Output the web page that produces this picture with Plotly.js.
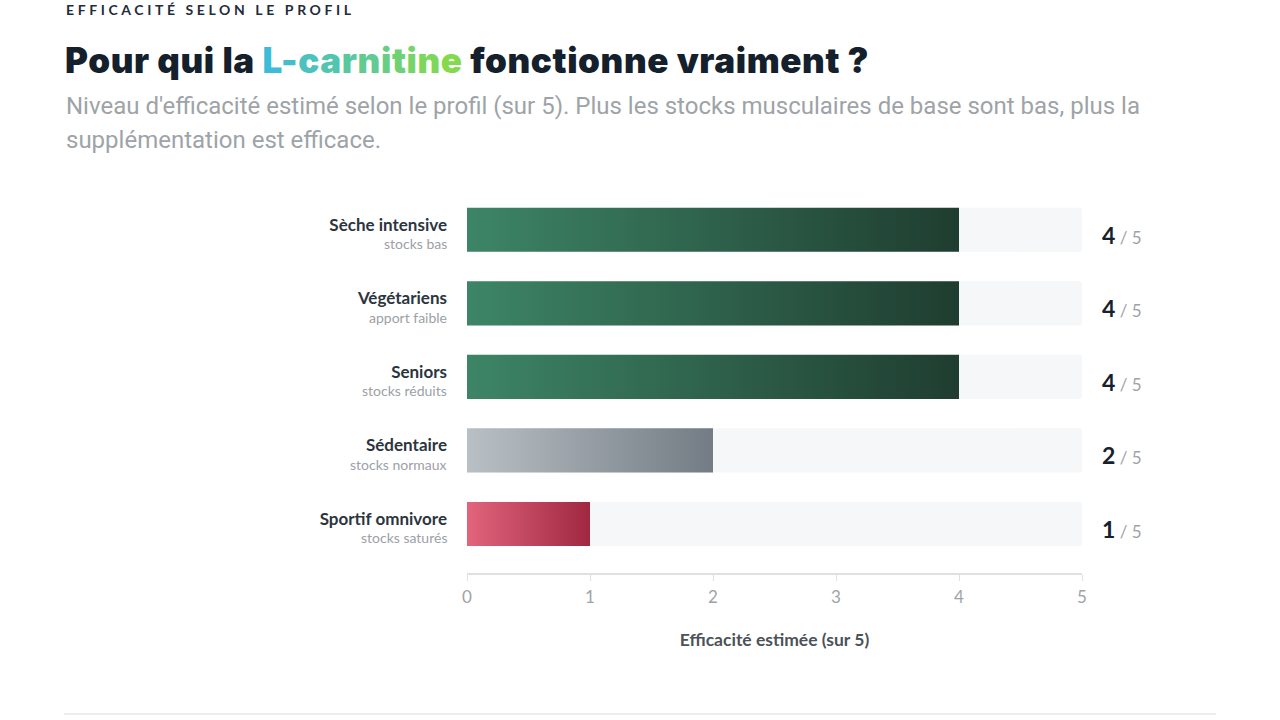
<!DOCTYPE html>
<html>
<head>
<meta charset="utf-8">
<script src="https://cdn.plot.ly/plotly-3.0.1.min.js"></script>
<style>
  html, body { margin: 0; padding: 0; background: #ffffff; }
  #chart { width: 1280px; height: 720px; }
</style>
</head>
<body>
<div id="chart"></div>
<script>
// ---- Data ----
const categories = ["Sèche intensive", "Végétariens", "Seniors", "Sédentaire", "Sportif omnivore"];
const subLabels = ["stocks bas", "apport faible", "stocks réduits", "stocks normaux", "stocks saturés"];
const scores = [4, 4, 4, 2, 1];
const maxScore = 5;
const trackValues = [5, 5, 5, 5, 5];
const xTicks = [0, 1, 2, 3, 4, 5];
const levels = ["high", "high", "high", "mid", "low"];

// ---- Styles ----
const gradients = {
  high: ["#3d8566", "#1f3d30"],
  mid: ["#b9c0c5", "#737c84"],
  low: ["#e2647d", "#9f2840"]
};
const FONT = "Lato, 'Noto Sans', sans-serif";
const TITLE_FONT = "Inter, Lato, sans-serif";

function hexToRgb(h) { h = h.replace('#',''); return [parseInt(h.substr(0,2),16), parseInt(h.substr(2,2),16), parseInt(h.substr(4,2),16)]; }
function mix(a, b, t) { const A = hexToRgb(a), B = hexToRgb(b); return 'rgb(' + A.map((v,i)=>Math.round(v+(B[i]-v)*t)).join(',') + ')'; }
function gradientText(str, c1, c2) {
  const chars = Array.from(str);
  return chars.map((ch, i) => "<span style='color:" + mix(c1, c2, chars.length>1 ? i/(chars.length-1) : 0) + "'>" + ch + "</span>").join('');
}

const trackTrace = {
  type: 'bar', orientation: 'h',
  x: trackValues, y: categories,
  width: 0.6,
  marker: { color: '#f5f7f8', line: { width: 0 }, cornerradius: 3 },
  hoverinfo: 'skip', showlegend: false
};
const scoreTrace = {
  type: 'bar', orientation: 'h',
  x: scores, y: categories,
  width: 0.6,
  marker: { color: levels.map(l => gradients[l][1]), line: { width: 0 }, cornerradius: 4 },
  showlegend: false
};

// pixel -> paper helpers (plot area: x 467..1082, y 193..573)
const L = 467, R = 198, T = 193, B = 147;
const PW = 1280 - L - R, PH = 720 - T - B;
const px = x => (x - L) / PW;
const py = y => (720 - B - y) / PH;

const annotations = [
  { xref: 'paper', yref: 'paper', x: px(64), y: py(10), xanchor: 'left', yanchor: 'middle', showarrow: false,
    text: "<b>EFFICACITÉ SELON LE PROFIL</b>", font: { family: FONT, size: 14, color: '#1f2d3a' } },
  { xref: 'paper', yref: 'paper', x: px(63), y: py(60), xanchor: 'left', yanchor: 'middle', showarrow: false,
    text: "Pour qui la " + gradientText("L-carnitine", "#3dbcd8", "#84da4c") + " fonctionne vraiment ?",
    font: { family: TITLE_FONT, size: 35, color: '#14202b', weight: 900 } },
  { xref: 'paper', yref: 'paper', x: px(64), y: py(106), xanchor: 'left', yanchor: 'middle', showarrow: false,
    text: "Niveau d'efficacité estimé selon le profil (sur 5). Plus les stocks musculaires de base sont bas, plus la",
    font: { family: 'Roboto, sans-serif', size: 24, color: '#9ea3a8' } },
  { xref: 'paper', yref: 'paper', x: px(64), y: py(140), xanchor: 'left', yanchor: 'middle', showarrow: false,
    text: "supplémentation est efficace.",
    font: { family: 'Roboto, sans-serif', size: 24, color: '#9ea3a8' } }
];
categories.forEach((c, i) => {
  annotations.push({
    xref: 'paper', yref: 'y', x: px(449), y: c, xanchor: 'right', yanchor: 'middle', yshift: -14, showarrow: false,
    text: subLabels[i], font: { family: FONT, size: 14, color: '#9ca1a6' }
  });
  annotations.push({
    xref: 'paper', yref: 'y', x: px(1100), y: c, xanchor: 'left', yanchor: 'middle', yshift: -5, showarrow: false,
    text: "<b>" + scores[i] + "</b><span style='font-size:17px;color:#9ea3a8;font-weight:normal'> / " + maxScore + "</span>",
    font: { family: FONT, size: 23, color: '#16212b', weight: 900 }
  });
});

const layout = {
  width: 1280, height: 720,
  margin: { l: L, r: R, t: T, b: B, pad: 0 },
  paper_bgcolor: '#ffffff', plot_bgcolor: '#ffffff',
  barmode: 'overlay',
  font: { family: FONT },
  xaxis: {
    range: [0, maxScore], tickvals: xTicks, ticktext: xTicks.map(String),
    showgrid: false, zeroline: false,
    showline: true, linecolor: '#dde1e4', linewidth: 2,
    ticks: 'outside', ticklen: 6, tickcolor: '#dde1e4', tickwidth: 1,
    ticklabelstandoff: 2,
    tickfont: { family: FONT, size: 17, color: '#9ea3a8' },
    title: { text: "<b>Efficacité estimée (sur 5)</b>", font: { family: FONT, size: 17.5, color: '#4b5259' }, standoff: 27 },
    automargin: false, fixedrange: true
  },
  yaxis: {
    type: 'category', range: [4.667, -0.5],
    tickvals: categories, ticktext: categories.map(c => "<b>" + c + "</b>"),
    showgrid: false, zeroline: false, showline: false, ticks: '',
    ticklabelstandoff: 19, ticklabelshift: 5,
    tickfont: { family: FONT, size: 17, color: '#2c353e' },
    automargin: false, fixedrange: true
  },
  shapes: [
    { type: 'line', xref: 'paper', yref: 'paper', x0: px(64), x1: px(1216), y0: py(714), y1: py(714),
      line: { color: '#e3e6e8', width: 1.5 } }
  ],
  annotations: annotations
};

function spaceLetters(t, spacing) {
  const before = t.getBBox();
  t.style.letterSpacing = spacing;
  const after = t.getBBox();
  t.setAttribute('transform', 'translate(' + (before.x - after.x) + ',0)');
}

Plotly.newPlot('chart', [trackTrace, scoreTrace], layout, { displayModeBar: false, staticPlot: true }).then(gd => {
  const svg = gd.querySelector('svg.main-svg');
  const ns = 'http://www.w3.org/2000/svg';
  let defs = svg.querySelector('defs');
  if (!defs) { defs = document.createElementNS(ns, 'defs'); svg.insertBefore(defs, svg.firstChild); }
  Object.keys(gradients).forEach(k => {
    const lg = document.createElementNS(ns, 'linearGradient');
    lg.setAttribute('id', 'grad-' + k);
    lg.setAttribute('x1', '0'); lg.setAttribute('x2', '1'); lg.setAttribute('y1', '0'); lg.setAttribute('y2', '0');
    [[0, gradients[k][0]], [1, gradients[k][1]]].forEach(([o, c]) => {
      const s = document.createElementNS(ns, 'stop');
      s.setAttribute('offset', o); s.setAttribute('stop-color', c);
      lg.appendChild(s);
    });
    defs.appendChild(lg);
  });
  const barTraces = gd.querySelectorAll('.barlayer .trace.bars');
  const scoreBars = barTraces[1].querySelectorAll('.point path');
  scoreBars.forEach((p, i) => { p.style.fill = 'url(#grad-' + levels[i] + ')'; });
  gd.querySelectorAll('.annotation-text').forEach(t => {
    if (t.textContent.indexOf('EFFICACIT') === 0) spaceLetters(t, '3.6px');
    else if (t.textContent.indexOf('Pour qui') === 0) spaceLetters(t, '0.6px');
  });
});
</script>
</body>
</html>
